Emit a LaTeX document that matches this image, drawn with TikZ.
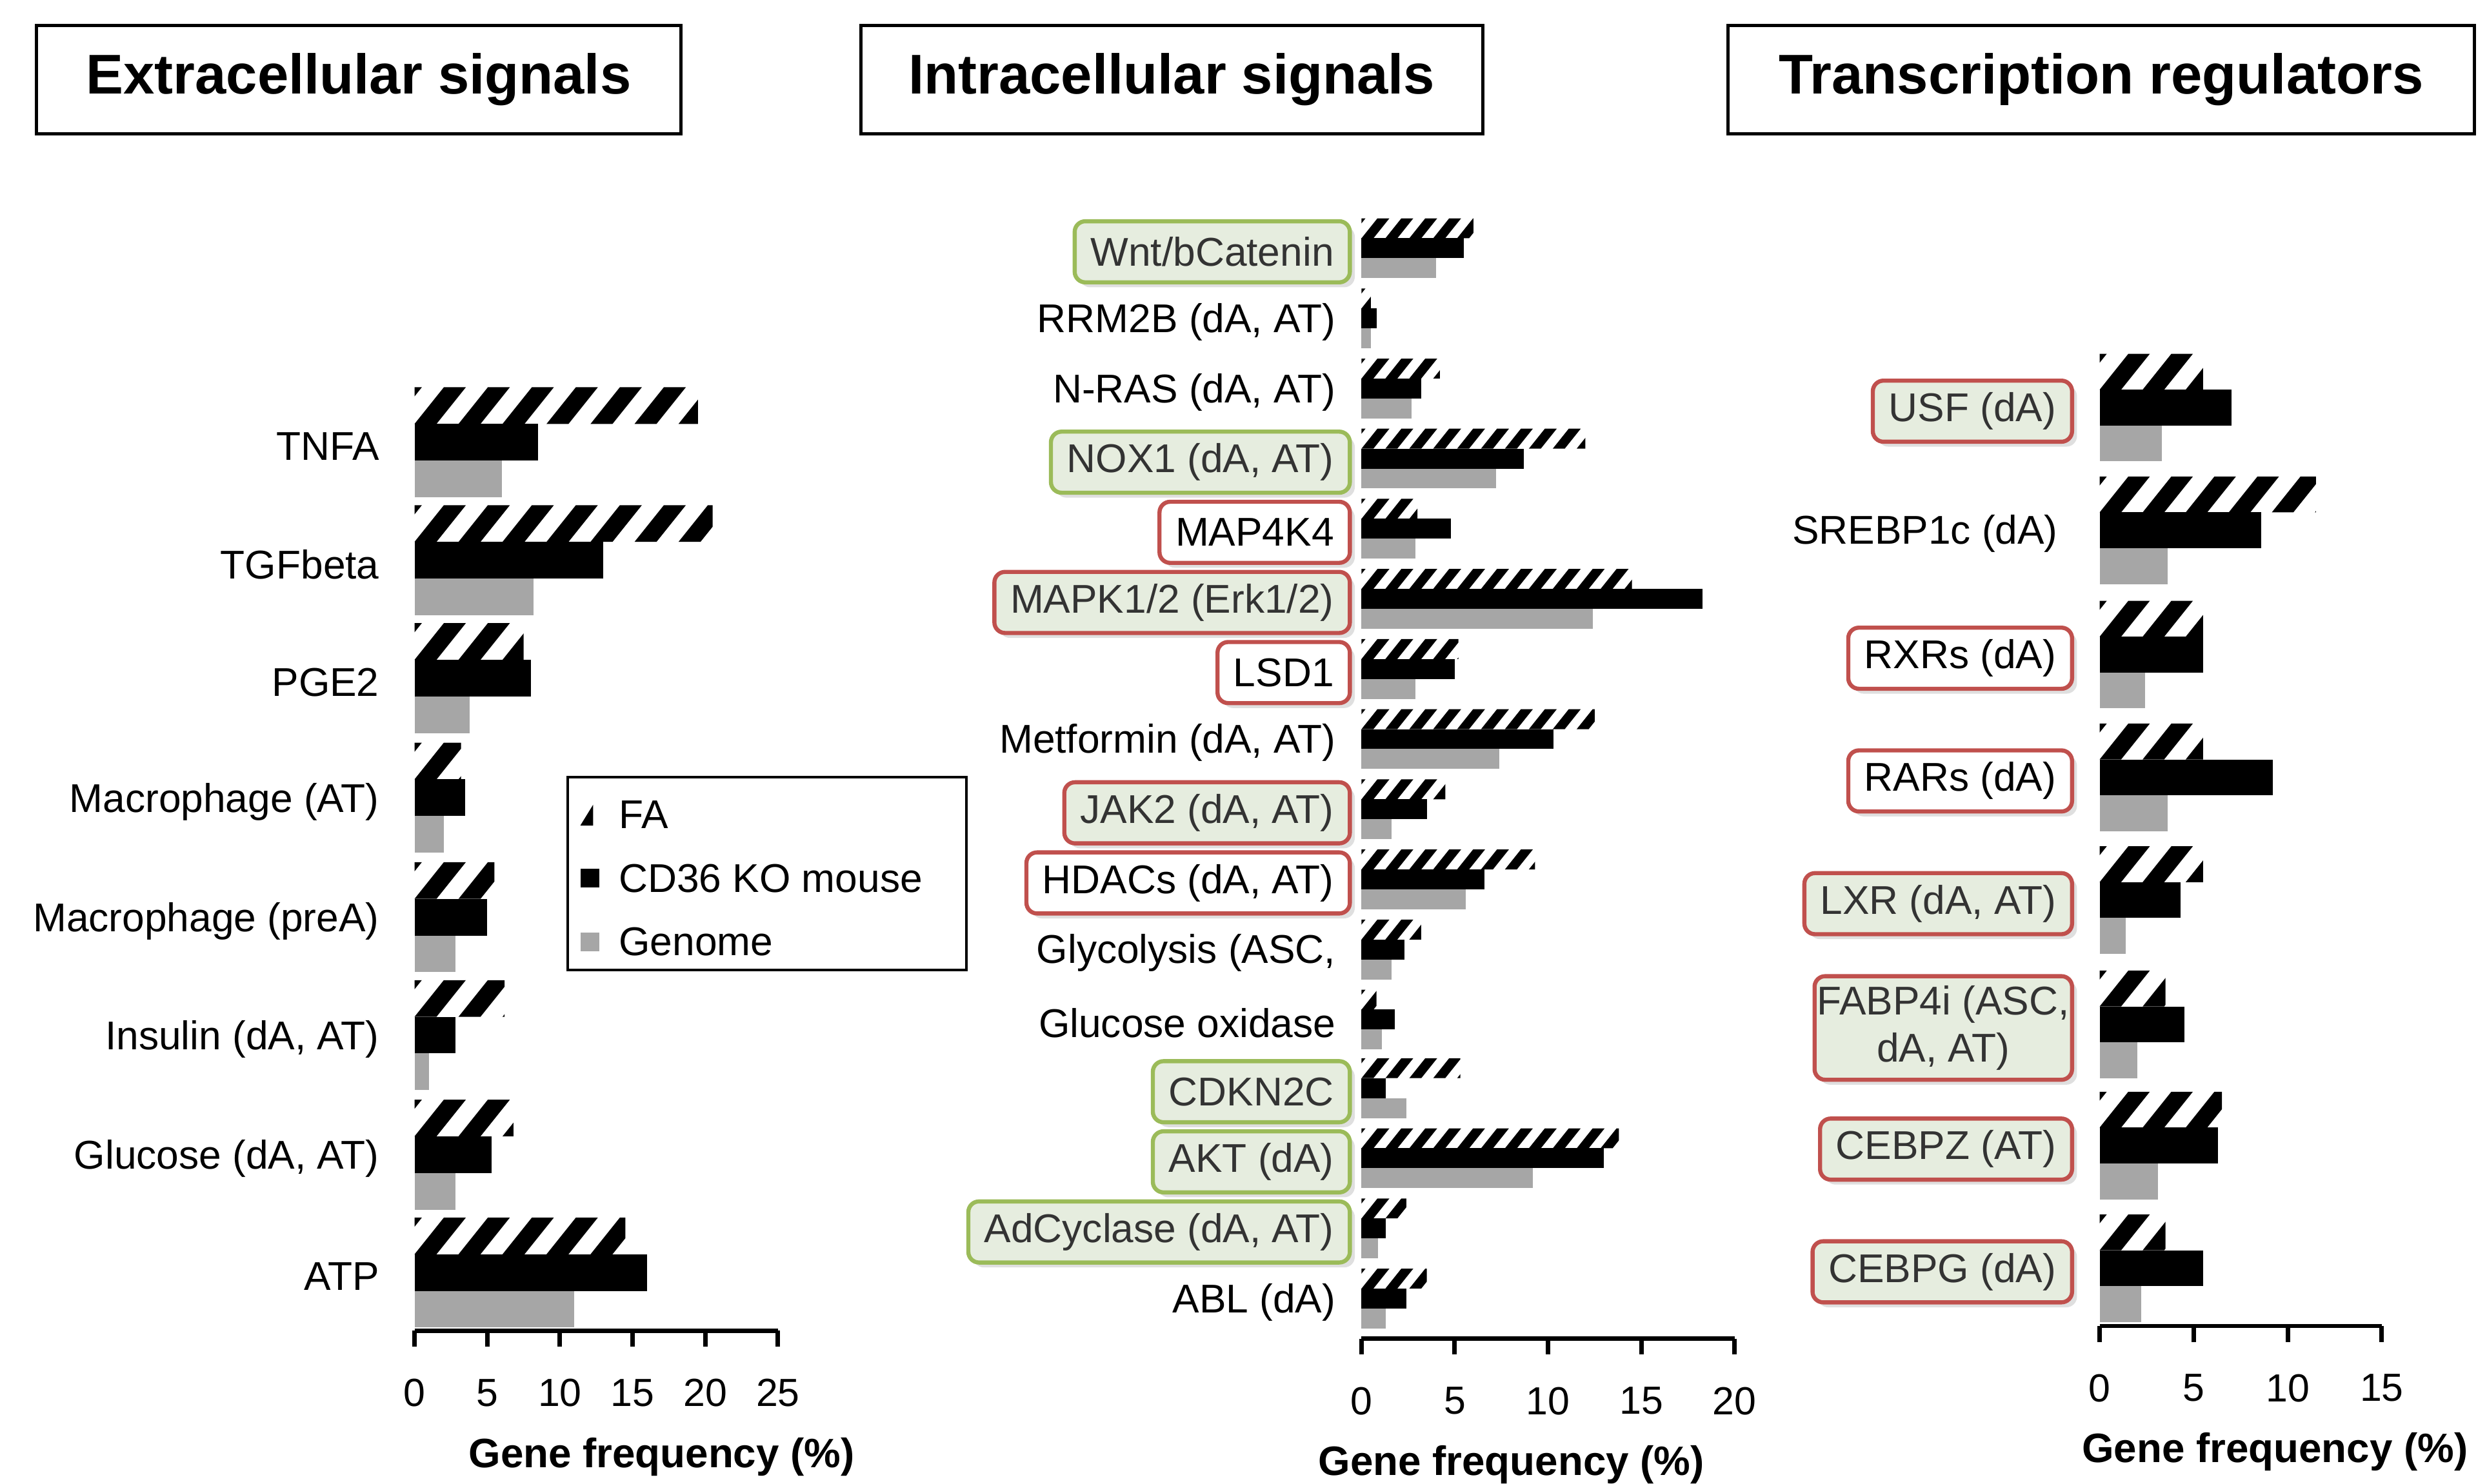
\documentclass[tikz,border=0pt]{standalone}
\usepackage{fontspec}
\setmainfont{Liberation Sans}
\usetikzlibrary{positioning,shadows}
\definecolor{gen}{RGB}{166,166,166}
\definecolor{grn}{RGB}{155,187,89}
\definecolor{rd}{RGB}{192,80,77}
\definecolor{pale}{RGB}{230,237,223}
\tikzset{
  lbl/.style={anchor=east, inner xsep=0.3cm, inner ysep=0pt, minimum height=1.15cm, font=\fontsize{21.5}{25}\selectfont},
  gbox/.style={lbl, draw=grn, fill=pale, line width=2.2pt, rounded corners=0.2cm, text=black!80, drop shadow={opacity=0.25}},
  rbox/.style={lbl, draw=rd, fill=white, line width=2.2pt, rounded corners=0.2cm, drop shadow={opacity=0.25}},
  rgbox/.style={rbox, fill=pale, text=black!80},
  title/.style={draw, line width=1.6pt, minimum height=2.04cm, font=\fontsize{30}{34}\selectfont\bfseries},
  tick/.style={font=\fontsize{21}{24}\selectfont},
  axl/.style={font=\fontsize{22}{25}\selectfont\bfseries},
}
% x0, unit, ytop, h, fa, ko, genome
\newcommand{\grp}[7]{%
  \begin{scope}
    \clip (#1,#3) rectangle ({#1+#2*#5},{#3+#4});
    \foreach \s in {-1,...,30}
      \fill ({#1+\s*1.2*#4},{#3+#4}) -- ++({0.6*#4},0) -- ++({0.8*#4},{-#4}) -- ++({-0.6*#4},0) -- cycle;
  \end{scope}
  \fill (#1,{#3+#4}) rectangle ({#1+#2*#6},{#3+2*#4});
  \fill[gen] (#1,{#3+2*#4}) rectangle ({#1+#2*#7},{#3+3*#4});
}
\newcommand{\axis}[5]{% x0, unit, y, max, step
  \draw[line width=2.4pt] (#1,#3) -- ({#1+#2*#4},#3);
  \foreach \v in {0,#5,...,#4}
    \draw[line width=2.4pt] ({#1+#2*\v},#3) -- ({#1+#2*\v},{#3+10})
      node[tick, below=0.45cm] {\v};
}
\begin{document}
\begin{tikzpicture}[x=0.03cm, y=-0.03cm]
  \useasboundingbox (0,0) rectangle (1560,931);

  % titles
  \node[title, minimum width=12.12cm] (t1) at (225,50) {Extracellular signals};
  \node[title, minimum width=11.7cm] (t2) at (735,50) {Intracellular signals};
  \node[title, minimum width=14.04cm] (t3) at (1318,50) {Transcription regulators};

  % extracellular
  \foreach \y/\n/\a/\b/\c in {280/TNFA/19.5/8.5/6, 354/TGFbeta/20.5/13/8.2, 428/PGE2/7.5/8/3.8,
      503/Macrophage (AT)/3.2/3.5/2, 578/Macrophage (preA)/5.5/5/2.8, 652/{Insulin (dA, AT)}/6.2/2.8/1,
      727/{Glucose (dA, AT)}/6.8/5.3/2.8, 801/ATP/14.5/16/11} {
    \grp{260}{9.12}{\y-37}{23}{\a}{\b}{\c}
    \node[lbl] at (248,\y) {\n};
  }
  \axis{260}{9.12}{835}{25}{5}
  \node[axl] (ax1) at (415,914) {Gene frequency (\%)};

  % legend
  \node[draw, line width=1.4pt, minimum width=7.5cm, minimum height=3.63cm] (leg) at (481,548) {};
  \fill (364,518) -- (372,518) -- (372,505) -- cycle;
  \fill (364,545) rectangle (376,557);
  \fill[gen] (364,585) rectangle (376,597);
  \node[lbl, anchor=west, inner xsep=0pt] (lfa) at (388,511) {FA};
  \node[lbl, anchor=west, inner xsep=0pt] (lko) at (388,551) {CD36 KO mouse};
  \node[lbl, anchor=west, inner xsep=0pt] (lgn) at (388,591) {Genome};

  % intracellular
  \foreach \y/\n/\s/\a/\b/\c in {158/{Wnt/bCatenin}/gbox/6/5.5/4, 202/{RRM2B (dA, AT)}/lbl/0.5/0.8/0.5,
      246/{N-RAS (dA, AT)}/lbl/4.2/3.2/2.7, 290/{NOX1 (dA, AT)}/gbox/12/8.7/7.2,
      334/MAP4K4/rbox/3/4.8/2.9, 378/{MAPK1/2 (Erk1/2)}/rgbox/14.5/18.3/12.4,
      422/LSD1/rbox/5.2/5/2.9, 466/{Metformin (dA, AT)}/lbl/12.5/10.3/7.4,
      510/{JAK2 (dA, AT)}/rgbox/4.5/3.5/1.6, 554/{HDACs (dA, AT)}/rbox/9.3/6.6/5.6,
      598/{Glycolysis (ASC,}/lbl/3.2/2.3/1.6, 642/Glucose oxidase/lbl/0.8/1.8/1.1,
      685/CDKN2C/gbox/5.3/1.3/2.4, 729/AKT (dA)/gbox/13.8/13/9.2,
      773/{AdCyclase (dA, AT)}/gbox/2.4/1.3/0.9, 817/ABL (dA)/lbl/3.5/2.4/1.3} {
    \grp{854}{11.7}{\y-21}{12.5}{\a}{\b}{\c}
    \node[\s] at (848,\y) {\n};
  }
  \axis{854}{11.7}{840}{20}{5}
  \node[axl] (ax2) at (948,919) {Gene frequency (\%)};

  % transcription
  \foreach \y/\n/\s/\a/\b/\c in {258/USF (dA)/rgbox/5.5/7/3.3, 335/SREBP1c (dA)/lbl/11.5/8.6/3.6,
      413/RXRs (dA)/rbox/5.5/5.5/2.4, 490/RARs (dA)/rbox/5.5/9.2/3.6,
      567/{LXR (dA, AT)}/rgbox/5.5/4.3/1.4, 721/CEBPZ (AT)/rgbox/6.5/6.3/3.1,
      798/CEBPG (dA)/rgbox/3.5/5.5/2.2} {
    \grp{1317}{11.8}{\y-36}{22.5}{\a}{\b}{\c}
    \node[\s] at (1301,\y) {\n};
  }
  \grp{1317}{11.8}{609}{22.5}{3.5}{4.5}{2}
  \node[rgbox, inner xsep=0.05cm, align=center, minimum height=1.95cm] (fab) at (1301,645) {FABP4i (ASC,\\dA, AT)};
  \axis{1317}{11.8}{832}{15}{5}
  \node[axl] (ax3) at (1427,911) {Gene frequency (\%)};
\end{tikzpicture}
\end{document}
